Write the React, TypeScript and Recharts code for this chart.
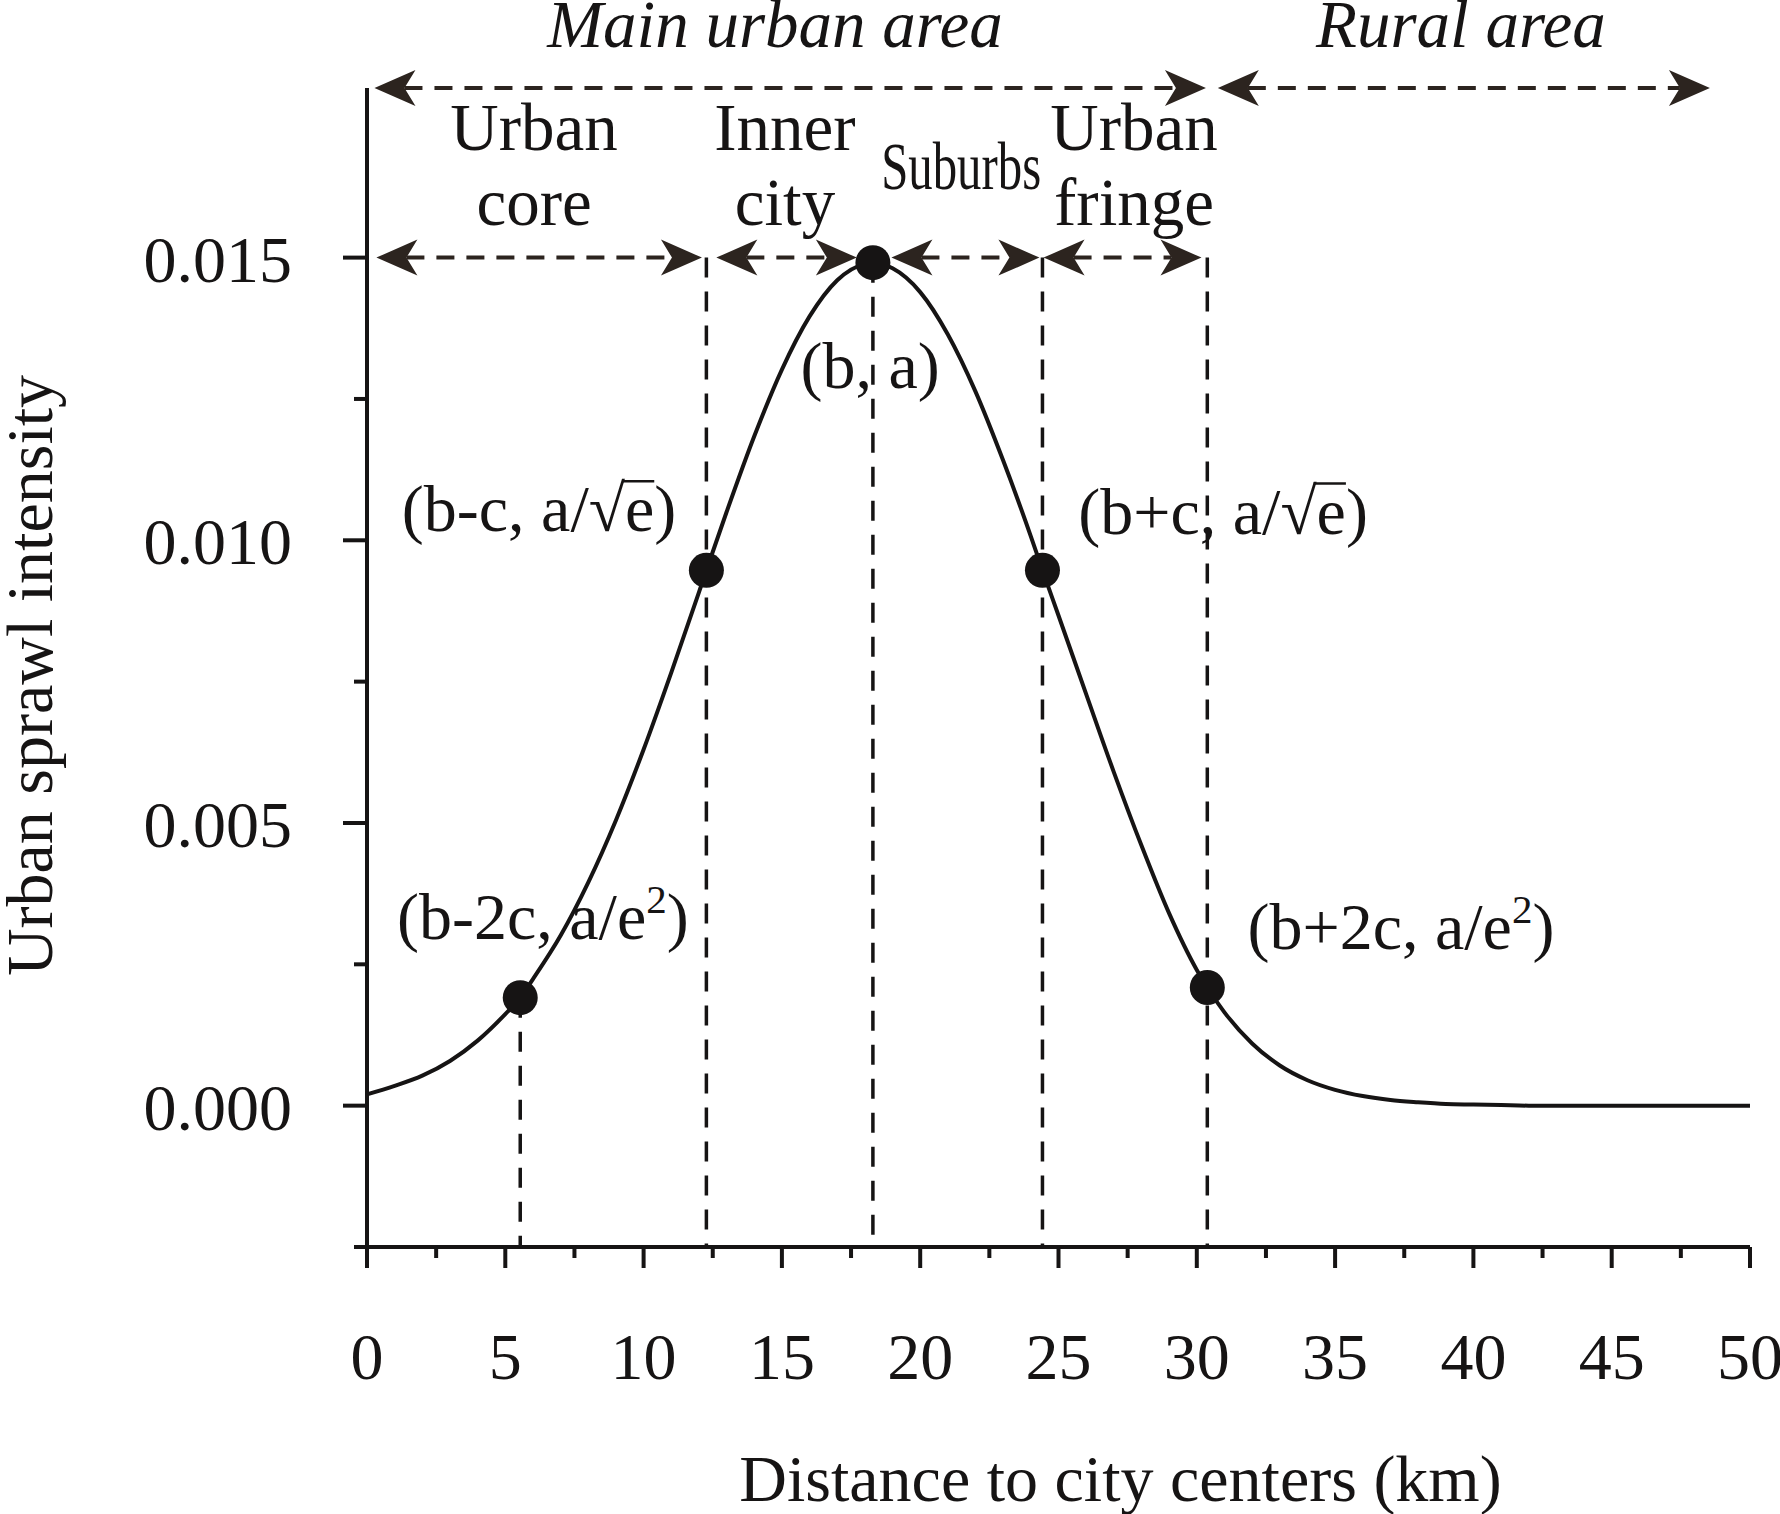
import React from 'react'
import {
  ComposedChart, Line, Scatter, XAxis, YAxis,
  ReferenceLine, ReferenceDot, Label,
} from 'recharts'

// curve samples
const distanceKm = [
  0, 1, 2, 3, 4, 5, 5.54, 6, 7, 8, 9, 10, 11, 12, 12.27, 13, 14, 15, 16, 17, 18, 18.29,
  19, 20, 21, 22, 23, 24, 24.42, 25, 26, 27, 28, 29, 30, 30.38, 31, 32, 33, 34, 35,
  36, 37, 38, 39, 40, 41, 42, 43, 44, 45, 46, 47, 48, 49, 50,
]
const sprawlIntensity = [
  0.0002, 0.00035, 0.00053, 0.00079, 0.00115, 0.00162, 0.00191, 0.00224, 0.00301, 0.00395,
  0.00505, 0.0063, 0.00766, 0.00908, 0.00947, 0.0105, 0.01184, 0.01302, 0.01396, 0.0146,
  0.01489, 0.01491, 0.01481, 0.01439, 0.01364, 0.01263, 0.01141, 0.01007, 0.00947, 0.00867,
  0.00728, 0.0059, 0.0046, 0.0034, 0.0024, 0.00209, 0.00165, 0.0011, 0.00071, 0.00045,
  0.00028, 0.00017, 0.0001, 0.00006, 0.00003, 0.00002, 0.00001, 0, 0, 0, 0, 0, 0, 0, 0, 0,
]

// characteristic points (b-2c, b-c, b, b+c, b+2c)
const pointKm = [5.54, 12.27, 18.29, 24.42, 30.38]
const pointIntensity = [0.00191, 0.00947, 0.01491, 0.00947, 0.00209]
const pointLabels = ['(b-2c, a/e²)', '(b-c, a/√e)', '(b, a)', '(b+c, a/√e)', '(b+2c, a/e²)']
const pointLabelKm = [6.36, 6.22, 18.19, 30.95, 37.38]
const pointLabelIntensity = [0.00294, 0.01016, 0.0127, 0.01012, 0.00277]

// dashed guides from each point down to the axis
const guideTop = [0.00191, 0.015, 0.01491, 0.015, 0.015]

// zone arrows along the peak level
const zoneFrom = [0.34, 12.63, 18.96, 24.46]
const zoneTo = [12.11, 17.71, 24.31, 30.17]
const zoneLevel = 0.015
const zoneLines = [['Urban', 'core'], ['Inner', 'city'], ['Urban', 'fringe']]
const zoneLabelKm = [6.04, 15.11, 27.73]
const suburbsLabel = 'Suburbs'
const suburbsKm = 21.48

// area arrows at the top
const areaNames = ['Main urban area', 'Rural area']
const areaFrom = [0.27, 30.76]
const areaTo = [30.33, 48.55]
const areaLabelKm = [14.75, 39.55]
const areaLevel = 0.018

const xMajorTicks = [0, 5, 10, 15, 20, 25, 30, 35, 40, 45, 50]
const xTickLabels = ['0', '5', '10', '15', '20', '25', '30', '35', '40', '45', '50']
const xMinorTicks = [2.5, 7.5, 12.5, 17.5, 22.5, 27.5, 32.5, 37.5, 42.5, 47.5]
const yMajorTicks = [0, 0.005, 0.01, 0.015]
const yTickLabels = ['0.000', '0.005', '0.010', '0.015']
const yMinorTicks = [-0.0025, 0.0025, 0.0075, 0.0125]

const FONT = '"Liberation Serif", "Times New Roman", Times, serif'
const INK = '#161414'
const ARROW = '#2c241f'
const LABEL_SIZE = 66

const curve = distanceKm.map((x, i) => ({ x, y: sprawlIntensity[i] }))
const points = pointKm.map((x, i) => ({ x, y: pointIntensity[i] }))

let measureCtx: CanvasRenderingContext2D | null = null
function textWidth(s: string, size: number) {
  if (!measureCtx) measureCtx = document.createElement('canvas').getContext('2d')
  if (!measureCtx) return s.length * size * 0.45
  measureCtx.font = `${size}px "Liberation Serif"`
  return measureCtx.measureText(s).width
}

function XTick({ x, y, payload }: any) {
  const i = xMajorTicks.indexOf(payload.value)
  const major = i >= 0
  return (
    <g>
      <line x1={x} x2={x} y1={y} y2={y + (major ? 21 : 11)} stroke={INK} strokeWidth={4} />
      {major && (
        <text x={x} y={y + 132} textAnchor="middle" fontSize={66} fontFamily={FONT} fill={INK}>
          {xTickLabels[i]}
        </text>
      )}
    </g>
  )
}

function YTick({ x, y, payload }: any) {
  const i = yMajorTicks.indexOf(payload.value)
  const major = i >= 0
  return (
    <g>
      <line x1={x - (major ? 24 : 13)} x2={x} y1={y} y2={y} stroke={INK} strokeWidth={4} />
      {major && (
        <text x={x - 75} y={y + 24} textAnchor="end" fontSize={66} fontFamily={FONT} fill={INK}>
          {yTickLabels[i]}
        </text>
      )}
    </g>
  )
}

function arrowHead(tip: number, y: number, dir: number) {
  const L = 41, W = 18, N = 11
  return `${tip},${y} ${tip + dir * L},${y - W} ${tip + dir * (L - N)},${y} ${tip + dir * L},${y + W}`
}

function DoubleArrow(p: any) {
  const left = Math.min(p.x1, p.x2)
  const right = Math.max(p.x1, p.x2)
  const y = p.y1
  return (
    <g>
      <line x1={left + 30} x2={right - 30} y1={y} y2={y} stroke={ARROW} strokeWidth={4} strokeDasharray="18 12" />
      <polygon points={arrowHead(left, y, 1)} fill={ARROW} />
      <polygon points={arrowHead(right, y, -1)} fill={ARROW} />
    </g>
  )
}

// point label with a superscript 2 or a square root whose bar is drawn as a line
function PointLabel({ cx, cy, text }: { cx: number; cy: number; text: string }) {
  if (text.includes('²')) {
    const [pre, post] = text.split('²')
    return (
      <text x={cx} y={cy} textAnchor="middle" fontSize={LABEL_SIZE} fontFamily={FONT} fill={INK}>
        <tspan>{pre}</tspan>
        <tspan dy={-26} fontSize={41}>2</tspan>
        <tspan dy={26}>{post}</tspan>
      </text>
    )
  }
  if (text.includes('√')) {
    const pre = text.slice(0, text.indexOf('√'))
    const total = textWidth(text, LABEL_SIZE)
    const start = cx - total / 2
    const sq = textWidth('√', LABEL_SIZE)
    const bx = start + textWidth(pre, LABEL_SIZE) + sq * 0.92
    const ex = start + textWidth(pre + '√e', LABEL_SIZE)
    return (
      <g>
        <text x={cx} y={cy} textAnchor="middle" fontSize={LABEL_SIZE} fontFamily={FONT} fill={INK}>
          {text}
        </text>
        <line x1={bx} x2={ex} y1={cy - 50} y2={cy - 50} stroke={INK} strokeWidth={2.5} />
      </g>
    )
  }
  return (
    <text x={cx} y={cy} textAnchor="middle" fontSize={LABEL_SIZE} fontFamily={FONT} fill={INK}>
      {text}
    </text>
  )
}

export default function App() {
  return (
    <div style={{ position: 'absolute', left: 0, top: 0, width: 1780, height: 1514, background: '#fff' }}>
      <ComposedChart
        width={1780}
        height={1514}
        data={curve}
        margin={{ top: 88, right: 30, bottom: 0, left: 0 }}
      >
        <XAxis
          type="number"
          dataKey="x"
          domain={[0, 50]}
          ticks={[...xMajorTicks, ...xMinorTicks].sort((a, b) => a - b)}
          interval={0}
          tickSize={0}
          tickMargin={0}
          tickLine={false}
          tick={XTick}
          height={267}
          axisLine={{ stroke: INK, strokeWidth: 4 }}
        >
          <Label
            content={({ viewBox }: any) => {
              const vb = viewBox || { x: 367, y: 1247, width: 1383 }
              return (
                <text x={vb.x + vb.width / 2 + 62} y={vb.y + 254} textAnchor="middle"
                  fontSize={66} fontFamily={FONT} fill={INK}>
                  Distance to city centers (km)
                </text>
              )
            }}
          />
        </XAxis>
        <YAxis
          type="number"
          dataKey="y"
          domain={[-0.0025, 0.018]}
          ticks={[...yMajorTicks, ...yMinorTicks].sort((a, b) => a - b)}
          interval={0}
          tickSize={0}
          tickMargin={0}
          tickLine={false}
          tick={YTick}
          width={367}
          axisLine={{ stroke: INK, strokeWidth: 4 }}
        >
          <Label
            content={({ viewBox }: any) => {
              const vb = viewBox || { x: 0, y: 88, height: 1159 }
              const cx = vb.x + 52
              const cy = vb.y + vb.height / 2 + 8
              return (
                <text x={cx} y={cy} textAnchor="middle" transform={`rotate(-90 ${cx} ${cy})`}
                  fontSize={66} fontFamily={FONT} fill={INK}>
                  Urban sprawl intensity
                </text>
              )
            }}
          />
        </YAxis>

        {pointKm.map((km, i) => (
          <ReferenceLine
            key={'g' + i}
            segment={[{ x: km, y: guideTop[i] }, { x: km, y: -0.0025 }]}
            stroke={INK}
            strokeWidth={3.5}
            strokeDasharray="20 14"
            ifOverflow="visible"
          />
        ))}
        {zoneFrom.map((from, i) => (
          <ReferenceLine
            key={'z' + i}
            segment={[{ x: from, y: zoneLevel }, { x: zoneTo[i], y: zoneLevel }]}
            shape={DoubleArrow}
            ifOverflow="visible"
          />
        ))}
        {areaFrom.map((from, i) => (
          <ReferenceLine
            key={'a' + i}
            segment={[{ x: from, y: areaLevel }, { x: areaTo[i], y: areaLevel }]}
            shape={DoubleArrow}
            ifOverflow="visible"
          />
        ))}

        <Line
          type="monotone"
          dataKey="y"
          stroke={INK}
          strokeWidth={4}
          dot={false}
          activeDot={false}
          isAnimationActive={false}
        />
        <Scatter
          data={points}
          dataKey="y"
          fill={INK}
          isAnimationActive={false}
          shape={(p: any) => <circle cx={p.cx} cy={p.cy} r={17.5} fill={INK} />}
        />

        {areaNames.map((name, i) => (
          <ReferenceDot
            key={'an' + i}
            x={areaLabelKm[i]}
            y={0.01873}
            ifOverflow="visible"
            shape={(p: any) => (
              <text x={p.cx} y={p.cy} textAnchor="middle" fontSize={67} fontStyle="italic"
                fontFamily={FONT} fill={INK}>
                {name}
              </text>
            )}
          />
        ))}
        {zoneLines.map((lines, i) => (
          <ReferenceDot
            key={'zn' + i}
            x={zoneLabelKm[i]}
            y={0.0169}
            ifOverflow="visible"
            shape={(p: any) => (
              <text x={p.cx} y={p.cy} textAnchor="middle" fontSize={67} fontFamily={FONT} fill={INK}>
                {lines.map((ln, k) => (
                  <tspan key={k} x={p.cx} dy={k ? 75 : 0}>{ln}</tspan>
                ))}
              </text>
            )}
          />
        ))}
        <ReferenceDot
          x={suburbsKm}
          y={0.01622}
          ifOverflow="visible"
          shape={(p: any) => (
            <text x={p.cx} y={p.cy} textAnchor="middle" fontSize={67} fontFamily={FONT} fill={INK}
              textLength={160} lengthAdjust="spacingAndGlyphs">
              {suburbsLabel}
            </text>
          )}
        />
        {pointLabels.map((lab, i) => (
          <ReferenceDot
            key={'pl' + i}
            x={pointLabelKm[i]}
            y={pointLabelIntensity[i]}
            ifOverflow="visible"
            shape={(p: any) => <PointLabel cx={p.cx} cy={p.cy} text={lab} />}
          />
        ))}
      </ComposedChart>
    </div>
  )
}
